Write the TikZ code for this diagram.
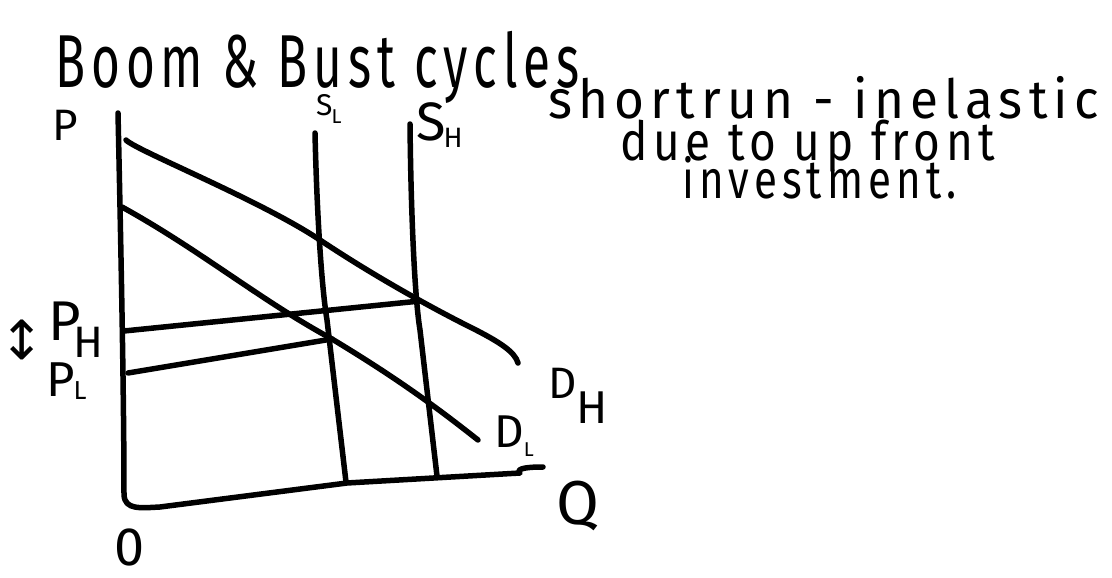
\documentclass[tikz,border=0pt]{standalone}
\usepackage{fontspec}
\setmainfont{Fira Sans}
\newfontfamily\hand[LetterSpace=12]{Fira Sans}
\newfontfamily\handsub{Fira Sans}
\newfontfamily\dejavu{DejaVu Sans}
\newcommand\fsz[1]{\fontsize{#1}{#1}\selectfont}
% size, drop, kern, letter
\newcommand\lowsub[4]{\hspace{#3}\raisebox{-#2}{\handsub\fsz{#1}#4}}
\begin{document}
\begin{tikzpicture}[x=1pt,y=-1pt,
  ink/.style={line width=5.5pt,line cap=round,line join=round,black},
  lbl/.style={inner sep=0pt,font=\hand}]
\useasboundingbox (0,0) rectangle (1112,578);
% coordinates
\coordinate (axT) at (118,113);
\coordinate (axE) at (543,467);
\coordinate (slT) at (315,133);
\coordinate (slB) at (346,482);
\coordinate (shT) at (410,124);
\coordinate (shB) at (437,476);
\coordinate (dhS) at (126,140);
\coordinate (dhE) at (518,363);
\coordinate (dlS) at (122,207);
\coordinate (dlE) at (478,440);
\coordinate (eH) at (420,301);
\coordinate (eL) at (332,339);
\coordinate (pH) at (124,331);
\coordinate (pL) at (128,373);
% axes
\draw[ink] (axT) .. controls (121,250) and (124,400) .. (124,495) .. controls (125,510) and (140,508) .. (160,507) -- (347,483) -- (520,473) .. controls (515,468) and (530,467) .. (axE);
% supply
\draw[ink] (slT) .. controls (317,220) and (322,290) .. (327,320) -- (slB);
\draw[ink] (shT) .. controls (411,220) and (415,300) .. (420,330) -- (shB);
% demand
\draw[ink] (dhS) .. controls (135,150) and (260,200) .. (320,240) .. controls (380,280) and (440,312) .. (470,327) .. controls (500,342) and (515,352) .. (dhE);
\draw[ink] (dlS) .. controls (200,250) and (260,300) .. (332,339) .. controls (400,380) and (440,410) .. (dlE);
% price lines
\draw[ink] (pH) -- (eH);
\draw[ink] (pL) -- (eL);
% texts
\node[lbl,anchor=base west,xscale=0.66] (title) at (55,88) {\fsz{75}Boom \& Bust cycles};
\node[lbl,anchor=base west,xscale=0.95] (t1) at (548,118) {\fsz{54}shortrun - inelastic};
\node[lbl,anchor=base west,xscale=0.85] (t2) at (620,160) {\fsz{54}due to up front};
\node[lbl,anchor=base west,xscale=0.78] (t3) at (682,198) {\fsz{54}investment.};
% labels
\node[lbl,anchor=base west] (P) at (52,140) {\fsz{44}P};
\node[lbl,anchor=base west] (SL) at (316,116) {\fsz{30}S\lowsub{20}{7pt}{-1pt}{L}};
\node[lbl,anchor=base west] (SH) at (416,140) {\fsz{54}S\lowsub{28}{7pt}{-2pt}{H}};
\node[lbl,anchor=base west] (PH) at (48,340) {\fsz{56}P\lowsub{44}{17pt}{-7pt}{H}};
\node[lbl,anchor=base west] (PL) at (46,396) {\fsz{49}P\lowsub{26}{3pt}{-1pt}{L}};
\node[lbl,anchor=base west] (DH) at (548,398) {\fsz{44}D\lowsub{46}{25pt}{0pt}{H}};
\node[lbl,anchor=base west] (DL) at (494,447) {\fsz{46}D\lowsub{20}{9pt}{0pt}{L}};
\node[lbl,anchor=base west] (Q) at (556,524) {\fsz{62}Q};
\node[lbl,anchor=base west] (O) at (114,565) {\fsz{54}0};
\node[inner sep=0pt,anchor=center] (arr) at (22,340) {\dejavu\fsz{54}↕};
\end{tikzpicture}
\end{document}
